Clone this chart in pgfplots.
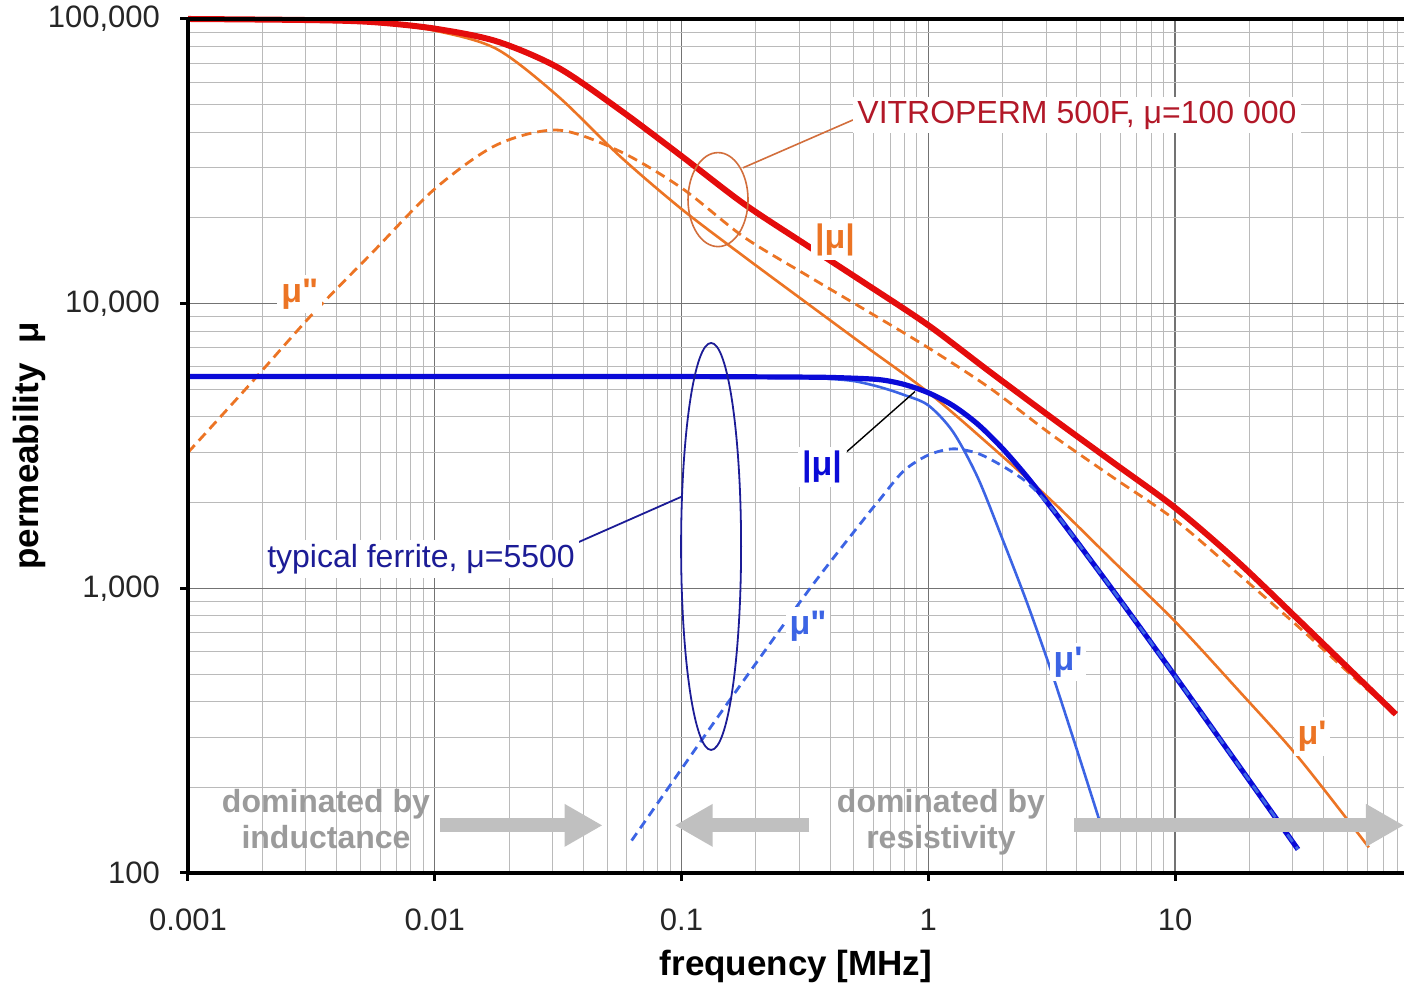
\documentclass[border=0pt]{standalone}
\usepackage{pgfplots}
\pgfplotsset{compat=1.18}
\usepackage{fontspec}
\setmainfont{Liberation Sans}[Ligatures=TeXOff]
\usetikzlibrary{arrows.meta}
\definecolor{vred}{RGB}{228,12,12}
\definecolor{vorange}{RGB}{236,116,36}
\definecolor{vtext}{RGB}{178,24,40}
\definecolor{ellor}{RGB}{210,110,60}
\definecolor{dblue}{RGB}{10,10,215}
\definecolor{lblue}{RGB}{60,100,228}
\definecolor{navy}{RGB}{28,28,150}
\definecolor{dgray}{RGB}{155,155,155}
\definecolor{agray}{RGB}{192,192,192}
\begin{document}
\begin{tikzpicture}
\useasboundingbox (-94pt,-56pt) rectangle (608pt,436.5pt);
\begin{axis}[
 at={(0,0)}, anchor=south west,
 scale only axis, width=608pt, height=427pt,
 xmode=log, ymode=log,
 xmin=0.001, xmax=84.7, ymin=100, ymax=100000,
 xtick={0.001,0.01,0.1,1,10}, xticklabels={0.001,0.01,0.1,1,10},
 ytick={100,1000,10000,100000}, yticklabels={100,{1,000},{10,000},{100,000}},
 minor xtick={0.002,0.003,0.004,0.005,0.006,0.007,0.008,0.009,0.02,0.03,0.04,0.05,0.06,0.07,0.08,0.09,0.2,0.3,0.4,0.5,0.6,0.7,0.8,0.9,2,3,4,5,6,7,8,9,20,30,40,50,60,70,80},
 minor ytick={200,300,400,500,600,700,800,900,2000,3000,4000,5000,6000,7000,8000,9000,20000,30000,40000,50000,60000,70000,80000,90000},
 grid=both,
 major grid style={draw=black!55, line width=0.7pt},
 minor grid style={draw=black!27, line width=0.5pt},
 axis line style={draw=none},
 tick pos=left, tick align=outside,
 major tick length=4pt, minor tick length=0pt,
 tick style={black, line width=1.5pt},
 /pgf/number format/assume math mode=true,
 ticklabel style={font=\fontsize{15.5}{18}\selectfont, text=black!85},
 xticklabel style={yshift=-10.5pt},
 yticklabel style={xshift=-6.5pt},
 xlabel={frequency [MHz]}, ylabel={permeability\ \ μ},
 label style={font=\bfseries\fontsize{17.5}{20}\selectfont},
 xlabel style={at={(axis description cs:0.5,0)}, anchor=center, yshift=-46.5pt},
 ylabel style={at={(axis description cs:-0.13,0.5)}, anchor=center},
 clip=false,
]
% VITROPERM mu'
\addplot[vorange, line width=1.3pt, smooth] coordinates {
(0.001,100000) (0.00316,99000) (0.00562,97000) (0.01,91000) (0.0178,78500)
(0.0316,53500) (0.0562,33000) (0.1,21500) (0.178,14700) (0.316,10170)
(0.562,7040) (1,4880) (1.778,3180) (3.162,2030) (5.62,1245) (10,765)
(17.78,445) (31.6,255) (61,123)};
% VITROPERM mu''
\addplot[vorange, line width=1.4pt, dash pattern=on 5pt off 3pt, smooth] coordinates {
(0.001,3000) (0.00178,5200) (0.00316,9100) (0.00562,15200) (0.01,25300)
(0.0178,36100) (0.0316,40700) (0.0562,34300) (0.1,25500) (0.178,17200)
(0.316,12700) (0.562,9450) (1,7000) (1.778,5050) (3.162,3465) (5.62,2450)
(10,1740) (17.78,1136) (31.6,733) (56.2,465) (78.5,361)};
% VITROPERM |mu|
\addplot[vred, line width=3pt, smooth] coordinates {
(0.001,100000) (0.00316,99100) (0.00562,97500) (0.01,92500) (0.0178,83500)
(0.0316,67500) (0.0562,48000) (0.1,33000) (0.178,22500) (0.316,16200)
(0.562,11700) (1,8400) (1.778,5760) (3.162,3975) (5.62,2765) (10,1920)
(17.78,1250) (31.6,776) (56.2,478) (78.5,361)};
% ferrite mu'
\addplot[lblue, line width=1.3pt, smooth] coordinates {
(0.001,5530) (0.03,5528) (0.1,5525) (0.316,5480) (0.398,5443) (0.501,5344)
(0.631,5104) (0.794,4786) (1,4395) (1.259,3548) (1.585,2455) (1.995,1496)
(2.512,891) (3.162,507) (3.981,275) (5.0,148)};
% ferrite |mu|
\addplot[dblue, line width=2.6pt, smooth] coordinates {
(0.001,5550) (0.03,5548) (0.1,5545) (0.316,5520) (0.447,5490) (0.631,5410)
(0.794,5210) (1,4864) (1.259,4385) (1.585,3776) (1.995,3105) (2.512,2466)
(3.162,1914) (3.981,1469) (6.31,855) (10,492) (17.78,244) (31.5,121)};
% ferrite mu''
\addplot[lblue, line width=1.4pt, dash pattern=on 4.5pt off 3pt, smooth] coordinates {
(0.0628,130) (0.1,232) (0.161,418) (0.33,993) (0.56,1790) (0.631,2033)
(0.794,2582) (1,2938) (1.259,3090) (1.585,2979) (1.995,2692) (2.512,2355)
(3.162,1914) (3.981,1469) (6.31,855) (10,492) (17.78,244) (31.5,121)};

% ellipses and connectors
\draw[ellor, line width=0.8pt] (axis cs:0.1406,23200) ellipse [x radius=15pt, y radius=23.5pt];
\draw[ellor, line width=0.8pt] (axis cs:0.1775,30000) -- (axis cs:0.4955,44200);
\draw[navy, line width=0.9pt] (axis cs:0.1318,1403) ellipse [x radius=15pt, y radius=101.75pt];
\draw[navy, line width=0.9pt] (axis cs:0.1005,2102) -- (axis cs:0.03806,1450);
\draw[black, line width=0.7pt] (axis cs:0.4686,3025) -- (axis cs:0.8837,4912);

% arrows
\draw[agray, line width=7pt, -{Triangle[length=19pt,width=20pt]}] (axis cs:0.01048,147) -- (axis cs:0.0479,147);
\draw[agray, line width=7pt, -{Triangle[length=19pt,width=20pt]}] (axis cs:0.330,147) -- (axis cs:0.0938,147);
\draw[agray, line width=7pt, -{Triangle[length=19pt,width=20pt]}] (axis cs:3.90,147) -- (axis cs:84.7,147);

% labels
\node[fill=white, inner sep=2pt, anchor=west, text=vtext, font=\fontsize{16}{19}\selectfont] at (axis cs:0.4955,46000) {VITROPERM 500F, μ=100 000};
\node[fill=white, inner sep=2pt, text=vorange, font=\bfseries\fontsize{17}{20}\selectfont] at (axis cs:0.419,16800) {|μ|};
\node[fill=white, inner sep=2pt, text=vorange, font=\bfseries\fontsize{17}{20}\selectfont] at (axis cs:0.00284,10800) {μ"};
\node[fill=white, inner sep=2pt, text=dblue, font=\bfseries\fontsize{17}{20}\selectfont] at (axis cs:0.371,2660) {|μ|};
\node[fill=white, inner sep=2pt, text=navy, font=\fontsize{16}{19}\selectfont] at (axis cs:0.0088,1264) {typical ferrite, μ=5500};
\node[fill=white, inner sep=2pt, text=lblue, font=\bfseries\fontsize{17}{20}\selectfont] at (axis cs:0.3256,735) {μ"};
\node[fill=white, inner sep=2pt, text=lblue, font=\bfseries\fontsize{17}{20}\selectfont] at (axis cs:3.685,550) {μ'};
\node[fill=white, inner sep=2pt, text=vorange, font=\bfseries\fontsize{17}{20}\selectfont] at (axis cs:35.9,302) {μ'};
\node[align=center, text=dgray, font=\bfseries\fontsize{16}{18}\selectfont] at (axis cs:0.003625,154.7) {dominated by\\inductance};
\node[align=center, text=dgray, font=\bfseries\fontsize{16}{18}\selectfont] at (axis cs:1.126,151) {dominated by\\resistivity};
\end{axis}
% axis frame (left, bottom, top)
\draw[black, line width=2pt] (608pt,427pt) -- (0,427pt) -- (0,0) -- (608pt,0);
\end{tikzpicture}
\end{document}
